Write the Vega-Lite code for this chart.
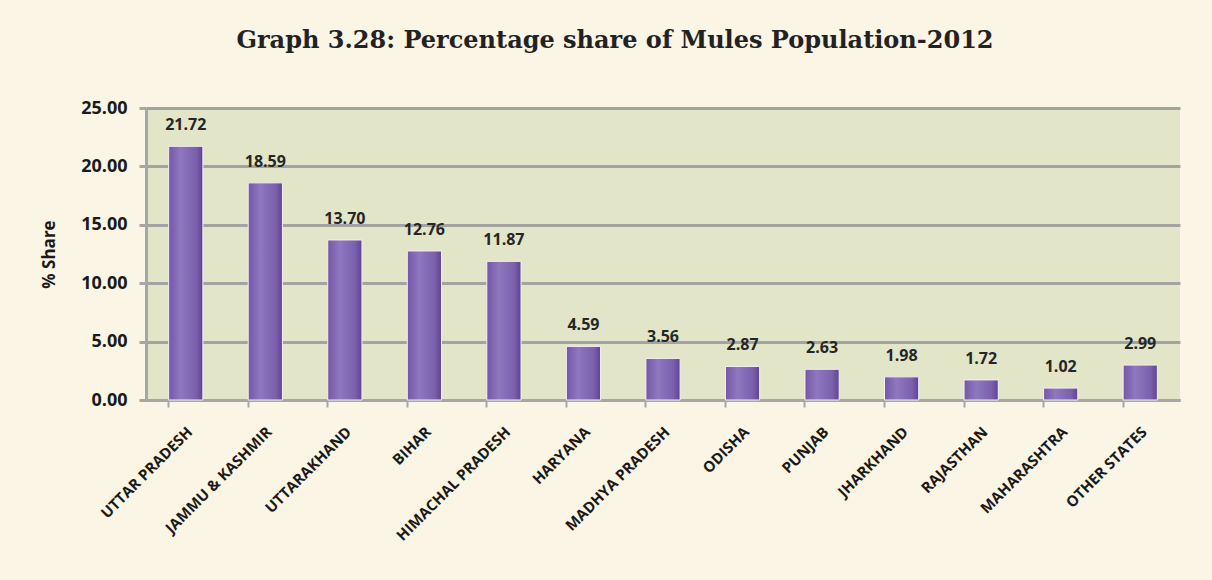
{
  "$schema": "https://vega.github.io/schema/vega-lite/v6.json",
  "autosize": {"type": "none"},
  "width": 1034,
  "height": 292,
  "padding": {"left": 146, "top": 108, "right": 32, "bottom": 180},
  "background": "#faf5e4",
  "title": {
    "text": "Graph 3.28: Percentage share of Mules Population-2012",
    "font": "DejaVu Serif",
    "fontSize": 24,
    "fontWeight": "bold",
    "color": "#222222",
    "anchor": "middle",
    "dx": -48,
    "offset": 46
  },
  "data": {
    "values": [
      {"state": "UTTAR PRADESH", "share": 21.72},
      {"state": "JAMMU & KASHMIR", "share": 18.59},
      {"state": "UTTARAKHAND", "share": 13.70},
      {"state": "BIHAR", "share": 12.76},
      {"state": "HIMACHAL PRADESH", "share": 11.87},
      {"state": "HARYANA", "share": 4.59},
      {"state": "MADHYA PRADESH", "share": 3.56},
      {"state": "ODISHA", "share": 2.87},
      {"state": "PUNJAB", "share": 2.63},
      {"state": "JHARKHAND", "share": 1.98},
      {"state": "RAJASTHAN", "share": 1.72},
      {"state": "MAHARASHTRA", "share": 1.02},
      {"state": "OTHER STATES", "share": 2.99}
    ]
  },
  "encoding": {
    "x": {
      "field": "state",
      "type": "nominal",
      "sort": null,
      "scale": {"paddingInner": 0.57, "paddingOuter": 0.285},
      "axis": {
        "title": null,
        "labelAngle": -45,
        "labelAlign": "right",
        "labelBaseline": "middle",
        "labelFont": "Open Sans",
        "labelFontSize": 15,
        "labelFontWeight": "bold",
        "labelColor": "#1a1a1a",
        "labelPadding": 22,
        "labelOffset": 4,
        "bandPosition": 0,
        "domainColor": "#a6a6a6",
        "domainWidth": 3,
        "tickColor": "#a6a6a6",
        "tickWidth": 2,
        "tickSize": 7,
        "grid": false
      }
    },
    "y": {
      "field": "share",
      "type": "quantitative",
      "scale": {"domain": [0, 25], "nice": false},
      "axis": {
        "title": "% Share",
        "titleFont": "Open Sans",
        "titleFontSize": 17,
        "titleFontWeight": "bold",
        "titleColor": "#1a1a1a",
        "titlePadding": 22,
        "values": [0, 5, 10, 15, 20, 25],
        "format": ".2f",
        "labelFont": "Open Sans",
        "labelFontSize": 18,
        "labelFontWeight": "bold",
        "labelColor": "#1a1a1a",
        "labelPadding": 12,
        "domainColor": "#a6a6a6",
        "domainWidth": 3,
        "tickColor": "#a6a6a6",
        "tickWidth": 3,
        "tickSize": 7,
        "gridColor": "#a3a3a3",
        "gridWidth": 3
      }
    }
  },
  "layer": [
    {
      "mark": {
        "type": "bar",
        "stroke": "#f3f0f8",
        "strokeWidth": 1,
        "color": {
          "gradient": "linear",
          "x1": 0, "y1": 0, "x2": 1, "y2": 0,
          "stops": [
            {"offset": 0, "color": "#7458a6"},
            {"offset": 0.35, "color": "#8e78bf"},
            {"offset": 0.8, "color": "#7a60ad"},
            {"offset": 1, "color": "#5e4490"}
          ]
        }
      }
    },
    {
      "mark": {
        "type": "text",
        "dy": -21,
        "font": "Open Sans",
        "fontSize": 16,
        "fontWeight": "bold",
        "color": "#262626"
      },
      "encoding": {
        "text": {"field": "share", "type": "quantitative", "format": ".2f"}
      }
    }
  ],
  "config": {
    "view": {"fill": "#e2e5c7", "stroke": "#a6a6a6", "strokeWidth": 0}
  }
}
